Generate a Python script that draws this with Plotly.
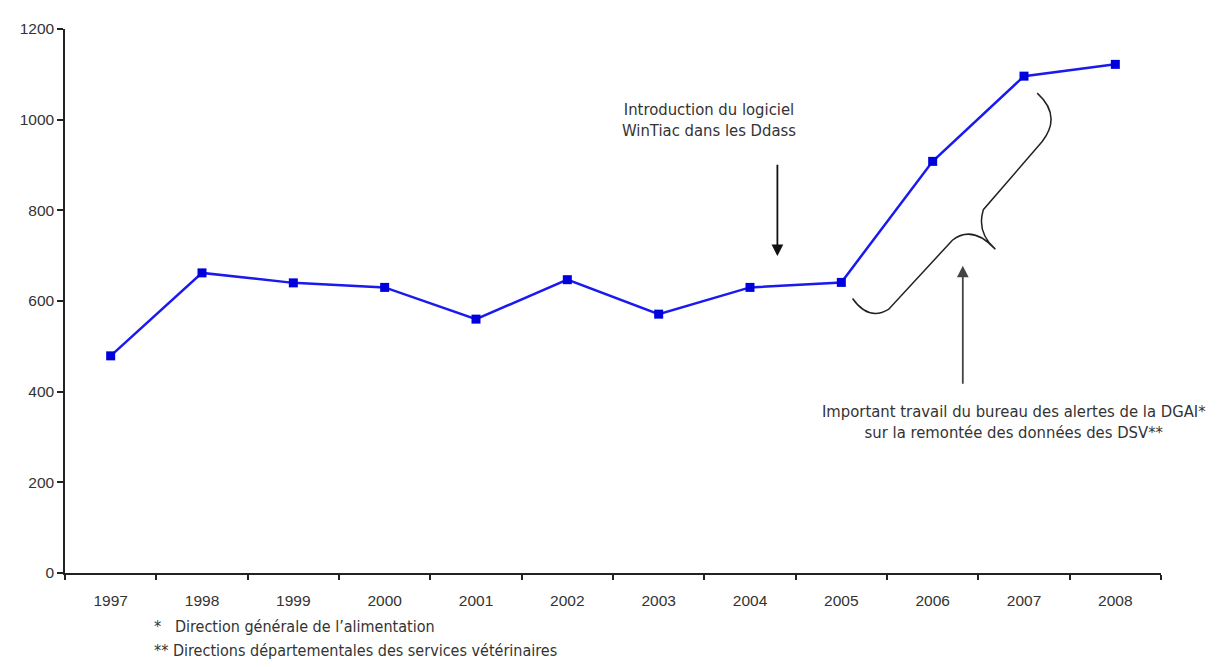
import plotly.graph_objects as go

years = ["1997", "1998", "1999", "2000", "2001", "2002", "2003", "2004", "2005", "2006", "2007", "2008"]
values = [479, 662, 640, 630, 560, 647, 571, 630, 641, 908, 1096, 1122]
y_ticks = [0, 200, 400, 600, 800, 1000, 1200]

OFF = 8  # page body margin
W, H = 1208, 651
L, R, T, B = 55, 55, 14, 86
PW, PH = W - L - R, H - T - B

def pp(px, py):
    """page pixel -> paper coords"""
    return (px - OFF - L) / PW, (H - B - (py - OFF)) / PH

NARROW = "Liberation Sans Narrow, DejaVu Sans Condensed, Arial Narrow, sans-serif"

fig = go.Figure()
fig.add_trace(go.Scatter(
    x=years, y=values, mode="lines+markers",
    line=dict(color="#1a1aee", width=2.5),
    marker=dict(symbol="square", size=9, color="#0000dd"),
    showlegend=False,
))

fig.update_layout(
    width=W, height=H,
    margin=dict(l=L, r=R, t=T, b=B),
    paper_bgcolor="white", plot_bgcolor="white",
    font=dict(family="Liberation Sans, Arial, sans-serif", size=15.5, color="#333"),
)
fig.update_xaxes(
    type="category", range=[-0.5, 11.5], tickson="boundaries",
    ticks="outside", ticklen=5, tickcolor="#222", tickwidth=1.5,
    showline=True, linecolor="#222", linewidth=1.5, showgrid=False,
    tickfont=dict(size=15.5, color="#333"), zeroline=False,
    ticklabelstandoff=13,
)
fig.update_yaxes(
    range=[0, 1200], tickvals=y_ticks,
    ticks="outside", ticklen=6, tickcolor="#222", tickwidth=1.5,
    showline=True, linecolor="#222", linewidth=1.5, showgrid=False,
    zeroline=False, tickfont=dict(size=15.5, color="#333"),
)

# Arrow 1 (WinTiac)
fig.add_annotation(x=7.30, y=699, ax=7.30, ay=904, axref="x", ayref="y",
                   xref="x", yref="y", text="", showarrow=True,
                   arrowhead=2, arrowsize=1.3, arrowwidth=1.8, arrowcolor="#111")
fig.add_annotation(x=6.55, y=1000, xref="x", yref="y", showarrow=False,
                   text="Introduction du logiciel<br>WinTiac dans les Ddass",
                   font=dict(family=NARROW, size=16.5, color="#333"), align="center")

# Arrow 2 (DGAl)
fig.add_annotation(x=9.33, y=678, ax=9.33, ay=414, axref="x", ayref="y",
                   xref="x", yref="y", text="", showarrow=True,
                   arrowhead=2, arrowsize=1.3, arrowwidth=1.8, arrowcolor="#444")
fig.add_annotation(x=9.89, y=333, xref="x", yref="y", showarrow=False,
                   text="Important travail du bureau des alertes de la DGAI*<br>sur la remontée des données des DSV**",
                   font=dict(family=NARROW, size=16.5, color="#333"), align="center")

# Curly brace
pts = [("M", [(852, 295)]), ("Q", [(868, 318), (888, 306)]), ("L", [(952, 236)]),
       ("Q", [(972, 220), (995, 245)]), ("Q", [(976, 228), (983, 205)]),
       ("L", [(1042, 136)]), ("Q", [(1062, 110), (1037, 87)])]
path = ""
for cmd, ps in pts:
    path += cmd + " " + " ".join("%.5f,%.5f" % pp(*p) for p in ps) + " "
fig.add_shape(type="path", path=path.strip(), xref="paper", yref="paper",
              line=dict(color="#222", width=1.5))

# Footnotes
fx, fy1 = pp(150, 627)
_, fy2 = pp(150, 651)
fig.add_annotation(x=fx, y=fy1, xref="paper", yref="paper", showarrow=False,
                   xanchor="left", yanchor="middle",
                   text="*   Direction générale de l’alimentation",
                   font=dict(family=NARROW, size=16, color="#333"))
fig.add_annotation(x=fx, y=fy2, xref="paper", yref="paper", showarrow=False,
                   xanchor="left", yanchor="middle",
                   text="** Directions départementales des services vétérinaires",
                   font=dict(family=NARROW, size=16, color="#333"))

fig.write_html("out.html")
